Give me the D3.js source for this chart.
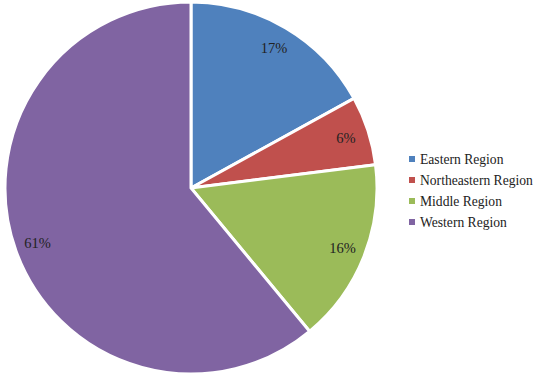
<!DOCTYPE html>
<html>
<head>
<meta charset="utf-8">
<script src="https://cdn.jsdelivr.net/npm/d3@7"></script>
<style>
  body { margin: 0; background: #fff; }
  text { font-family: "Liberation Serif", "DejaVu Serif", serif; fill: #222; }
</style>
</head>
<body>
<svg id="chart" width="536" height="382"></svg>
<script>
// Data
const regions = ["Eastern Region", "Northeastern Region", "Middle Region", "Western Region"];
const shares = [17, 6, 16, 61];
const colors = ["#4F81BD", "#C0504D", "#9BBB59", "#8064A2"];

const svg = d3.select("#chart");
const cx = 191, cy = 188, radius = 186;

const data = regions.map((r, i) => ({region: r, value: shares[i], color: colors[i]}));

const pie = d3.pie().value(d => d.value).sort(null);
const arc = d3.arc().innerRadius(0).outerRadius(radius);
const labelArc = d3.arc().innerRadius(163).outerRadius(163);

const g = svg.append("g").attr("transform", `translate(${cx},${cy})`);

g.selectAll("path")
  .data(pie(data))
  .enter().append("path")
  .attr("d", arc)
  .attr("fill", d => d.data.color)
  .attr("stroke", "#fff")
  .attr("stroke-width", 3)
  .attr("stroke-linejoin", "miter");

g.selectAll("text.lbl")
  .data(pie(data))
  .enter().append("text")
  .attr("class", "lbl")
  .attr("transform", d => `translate(${labelArc.centroid(d)})`)
  .attr("text-anchor", "middle")
  .attr("dy", "0.35em")
  .style("font-size", "14.5px")
  .text(d => d.data.value + "%");

// Legend
const legend = svg.append("g").attr("transform", "translate(409,159)");
const rows = legend.selectAll("g")
  .data(data)
  .enter().append("g")
  .attr("transform", (d, i) => `translate(0,${i * 21})`);

rows.append("rect")
  .attr("x", 0).attr("y", -3)
  .attr("width", 6).attr("height", 6)
  .attr("fill", d => d.color);

rows.append("text")
  .attr("x", 11)
  .attr("dy", "0.35em")
  .style("font-size", "13.6px")
  .text(d => d.region);
</script>
</body>
</html>
